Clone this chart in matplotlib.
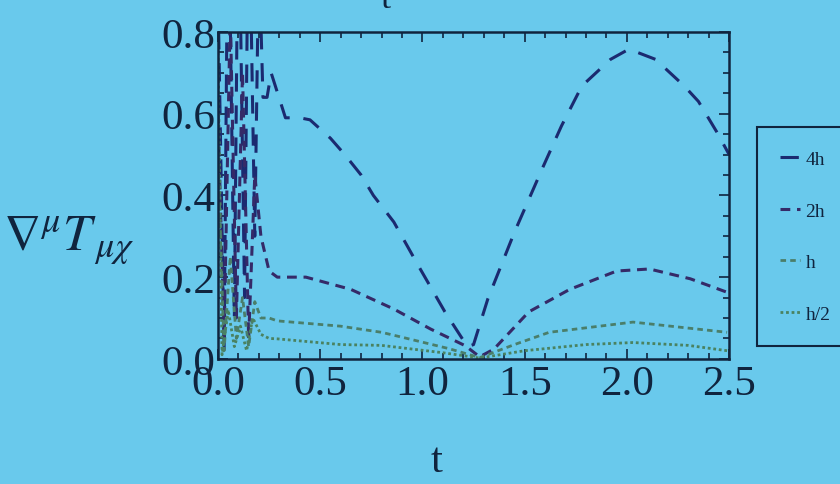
import matplotlib.pyplot as plt
from matplotlib.ticker import MultipleLocator

plt.rcParams['font.family'] = ['Liberation Serif', 'DejaVu Serif']
plt.rcParams['mathtext.fontset'] = 'stix'

# divergence of T for different step sizes
t_4h = [0.0, 0.03, 0.05, 0.08, 0.10, 0.13, 0.15, 0.18, 0.20, 0.22, 0.24, 0.26, 0.33, 0.40,
        0.45, 0.55, 0.62, 0.70, 0.76, 0.86, 0.98, 1.11, 1.22, 1.25, 1.32, 1.45, 1.59,
        1.68, 1.78, 1.92, 2.01, 2.14, 2.28, 2.35, 2.44, 2.50]
v_4h = [0.9, 0.02, 1.2, 0.1, 1.2, 0.15, 1.2, 0.3, 1.0, 0.64, 0.64, 0.70, 0.59, 0.59,
        0.585, 0.54, 0.50, 0.45, 0.40, 0.335, 0.228, 0.115, 0.03, 0.035, 0.147, 0.31, 0.47,
        0.57, 0.668, 0.733, 0.758, 0.733, 0.668, 0.63, 0.555, 0.50]

t_2h = [0.0, 0.03, 0.06, 0.09, 0.12, 0.15, 0.18, 0.21, 0.25, 0.29, 0.43, 0.65, 0.86,
        1.04, 1.21, 1.28, 1.35, 1.52, 1.72, 1.95, 2.11, 2.31, 2.49]
v_2h = [0.6, 0.05, 0.85, 0.1, 0.7, 0.05, 0.45, 0.3, 0.215, 0.2, 0.2, 0.17, 0.122,
        0.073, 0.032, 0.005, 0.024, 0.115, 0.17, 0.215, 0.22, 0.196, 0.163]

t_h = [0.0, 0.03, 0.06, 0.09, 0.12, 0.15, 0.18, 0.21, 0.25, 0.29, 0.6, 0.8, 0.9,
       1.13, 1.28, 1.45, 1.62, 2.03, 2.49]
v_h = [0.5, 0.02, 0.25, 0.05, 0.15, 0.03, 0.14, 0.1, 0.1, 0.093, 0.08, 0.065, 0.053,
       0.025, 0.003, 0.035, 0.065, 0.09, 0.065]

t_h2 = [0.0, 0.02, 0.05, 0.08, 0.11, 0.14, 0.17, 0.21, 0.25, 0.29, 0.6, 0.8, 1.1,
        1.28, 1.5, 1.8, 2.03, 2.3, 2.49]
v_h2 = [0.75, 0.01, 0.12, 0.03, 0.08, 0.02, 0.1, 0.06, 0.05, 0.049, 0.035, 0.033, 0.015,
        0.002, 0.02, 0.035, 0.04, 0.033, 0.02]

bg = '#69c9ec'
ink = '#10243e'

fig = plt.figure(figsize=(8.4, 4.85), dpi=100, facecolor=bg)
ax = fig.add_axes([0.2595, 0.258, 0.6085, 0.674], facecolor=bg)

ax.plot(t_4h, v_4h, color='#1b2a70', lw=2.2, ls=(0, (6, 4.5)), label='4h')
ax.plot(t_2h, v_2h, color='#352a68', lw=2.2, ls=(0, (3.2, 2.2)), label='2h')
ax.plot(t_h, v_h, color='#4a7e6a', lw=2.0, ls=(0, (2, 1.5)), label='h')
ax.plot(t_h2, v_h2, color='#4a8260', lw=2.0, ls=(0, (1, 1)), label='h/2')

ax.set_xlim(0, 2.5)
ax.set_ylim(0, 0.8)
ax.xaxis.set_major_locator(MultipleLocator(0.5))
ax.xaxis.set_minor_locator(MultipleLocator(0.1))
ax.yaxis.set_major_locator(MultipleLocator(0.2))
ax.yaxis.set_minor_locator(MultipleLocator(0.05))
ax.xaxis.set_major_formatter(lambda v, p: f'{v:.1f}')
ax.yaxis.set_major_formatter(lambda v, p: f'{v:.1f}')
ax.tick_params(which='both', direction='in', top=True, right=True, colors=ink,
               labelsize=31, width=1.2)
ax.tick_params(which='major', length=7, pad=2)
ax.tick_params(axis='x', which='major', pad=4)
ax.tick_params(which='minor', length=4)
for s in ax.spines.values():
    s.set_color(ink)
    s.set_linewidth(1.8)

fig.text(437 / 840, 1 - 462 / 485, 't', fontsize=31, color=ink, ha='center', va='center')
fig.text(0.004, 0.505, r'$\nabla^{\mu}T_{\,\mu\chi}$', fontsize=37, color=ink,
         ha='left', va='center')
fig.text(386 / 840, 1.0, 't', fontsize=26, color=ink, ha='center', va='center')

leg = fig.legend(loc='upper left', bbox_to_anchor=(757 / 840, 1 - 128 / 485),
                 fontsize=14, frameon=True, fancybox=False, facecolor=bg,
                 edgecolor=ink, framealpha=1, handlelength=1.0, handletextpad=0.3,
                 labelspacing=1.75, borderpad=1.2, borderaxespad=0)
leg.get_frame().set_linewidth(1.5)
for txt in leg.get_texts():
    txt.set_color(ink)

fig.savefig('out.png', dpi=100, facecolor=bg)
